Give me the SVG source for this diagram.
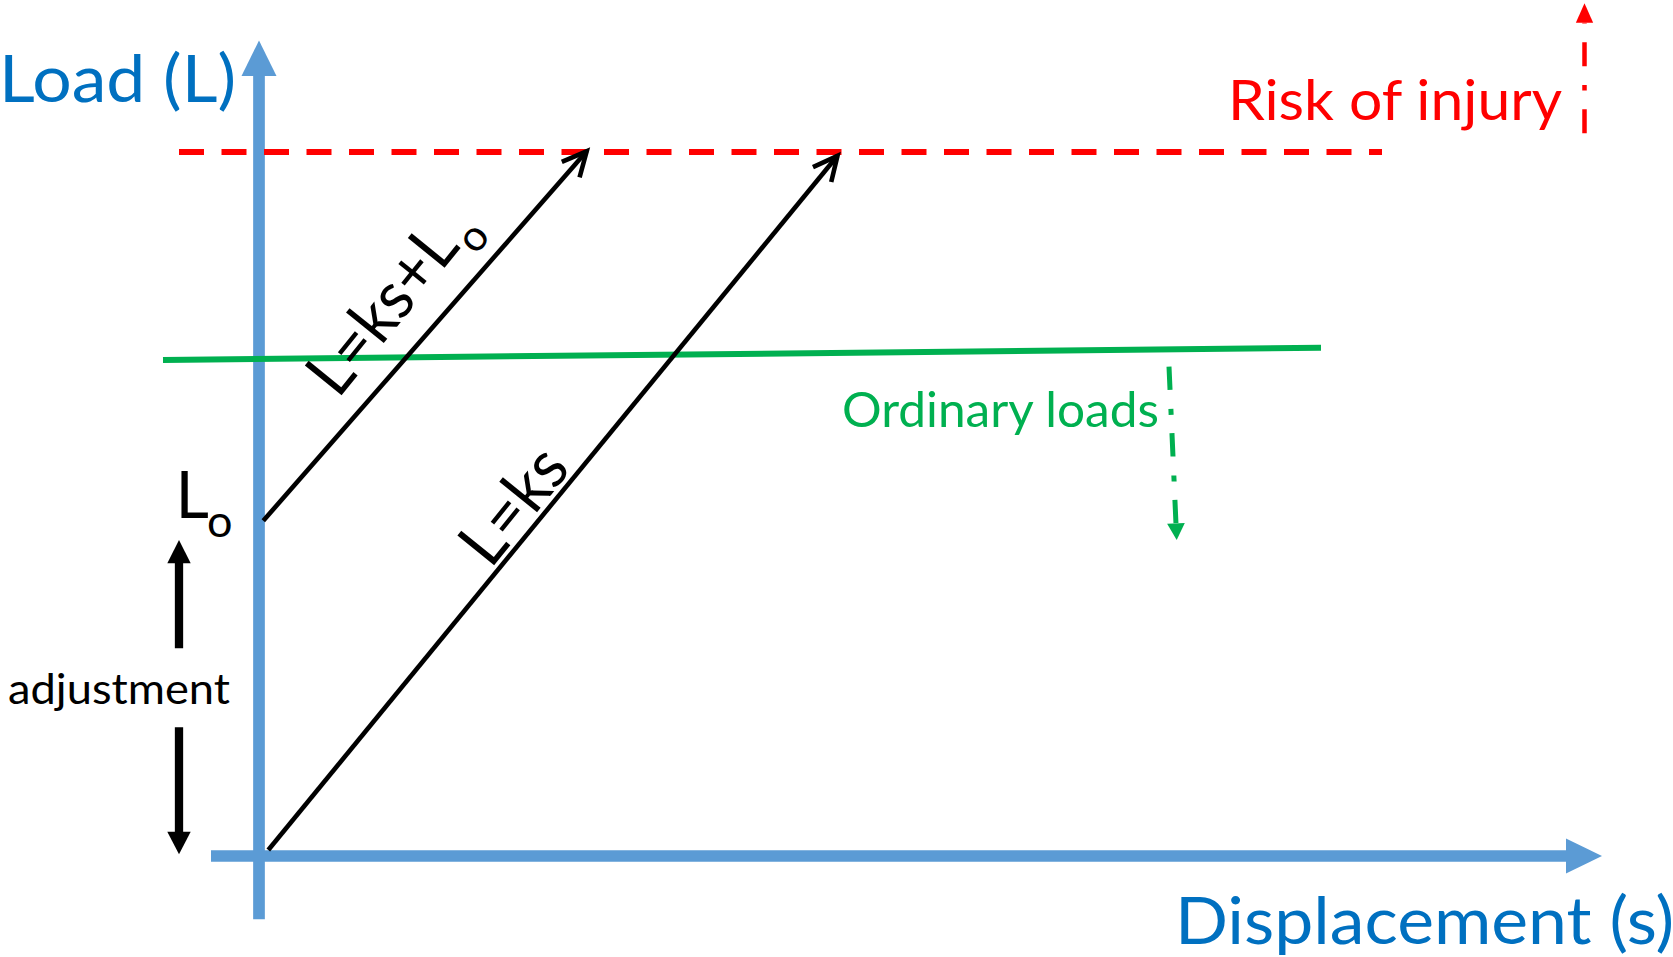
<svg xmlns="http://www.w3.org/2000/svg" width="1673" height="957" viewBox="0 0 1673 957">
<style>
  text { font-family: Lato, "Liberation Sans", sans-serif; }
  .blue-t { fill: #0070C0; }
  .axis { stroke: #5B9BD5; stroke-width: 11.7; fill: none; }
  .axis-head { fill: #5B9BD5; }
  .blk { stroke: #000; stroke-width: 4.6; fill: none; }
  .adj { stroke: #000; stroke-width: 8.3; fill: none; }
  .red-dash { stroke: #FF0000; stroke-width: 6; fill: none; stroke-dasharray: 25 17.5; }
  .red-dd { stroke: #FF0000; stroke-width: 4.5; fill: none; stroke-dasharray: 24 18.7 5.7 18.7; }
  .grn { stroke: #00B050; stroke-width: 6; fill: none; }
  .grn-dd { stroke: #00B050; stroke-width: 5; fill: none; stroke-dasharray: 23.3 19 6 18.3; }
</style>
<defs>
  <marker id="openArrow" markerUnits="userSpaceOnUse" markerWidth="44" markerHeight="44" viewBox="-32 -22 44 44" refX="0" refY="0" orient="auto" overflow="visible">
    <path d="M-24.3,-11.8 L0,0 L-24.3,11.8" fill="none" stroke="#000" stroke-width="4.6" stroke-linejoin="miter"/>
  </marker>
  <marker id="redHead" markerUnits="userSpaceOnUse" markerWidth="30" markerHeight="30" viewBox="-5 -15 30 30" refX="0" refY="0" orient="auto" overflow="visible">
    <path d="M0,-8.65 L19.4,0 L0,8.65 Z" fill="#FF0000"/>
  </marker>
  <marker id="greenHead" markerUnits="userSpaceOnUse" markerWidth="30" markerHeight="30" viewBox="-5 -15 30 30" refX="0" refY="0" orient="auto" overflow="visible">
    <path d="M0,-8.85 L16.7,0 L0,8.85 Z" fill="#00B050"/>
  </marker>
</defs>
<rect width="1673" height="957" fill="#fff"/>

<g id="axes">
  <line class="axis" x1="259" y1="919.3" x2="259" y2="75"/>
  <polygon class="axis-head" points="241.5,76 259,40.5 276.5,76"/>
  <line class="axis" x1="211" y1="856" x2="1567" y2="856"/>
  <polygon class="axis-head" points="1566,838.5 1602,856 1566,873.5"/>
</g>

<g id="connectors">
  <line class="red-dash" x1="179" y1="152" x2="1382" y2="152"/>
  <line class="red-dd" x1="1584.5" y1="133.3" x2="1584.5" y2="22.7" marker-end="url(#redHead)"/>
  <line class="grn" x1="163" y1="360" x2="1321" y2="347.8"/>
  <line class="grn-dd" x1="1169" y1="366.7" x2="1175.96" y2="523.3" marker-end="url(#greenHead)"/>
  <line class="blk" x1="263.3" y1="520.7" x2="586.7" y2="151.3" marker-end="url(#openArrow)"/>
  <line class="blk" x1="268.3" y1="850" x2="837.5" y2="155.8" marker-end="url(#openArrow)"/>
  <line class="adj" x1="179" y1="648.3" x2="179" y2="562"/>
  <polygon points="167.3,563.3 179,540 190.7,563.3" fill="#000"/>
  <line class="adj" x1="179" y1="727.3" x2="179" y2="833"/>
  <polygon points="167.3,831.7 179,854.3 190.7,831.7" fill="#000"/>
</g>

<g id="label-load">
  <text class="blue-t" x="-1" y="102" font-size="65" textLength="237" lengthAdjust="spacingAndGlyphs">Load (L)</text>
</g>
<g id="label-displacement">
  <text class="blue-t" x="1175" y="944" font-size="65" textLength="499" lengthAdjust="spacingAndGlyphs">Displacement (s)</text>
</g>
<g id="label-risk">
  <text x="1228" y="120" font-size="56.7" fill="#FF0000" textLength="334" lengthAdjust="spacingAndGlyphs">Risk of injury</text>
</g>
<g id="label-ordinary">
  <text x="842" y="427" font-size="47.7" fill="#00B050" textLength="317" lengthAdjust="spacingAndGlyphs">Ordinary loads</text>
</g>
<g id="label-adjustment">
  <text x="8" y="703.5" font-size="42.3" fill="#000" textLength="222" lengthAdjust="spacingAndGlyphs">adjustment</text>
</g>
<g id="label-Lo">
  <text x="175.5" y="518.3" font-size="65" fill="#000">L<tspan x="207" y="537" font-size="45">o</tspan></text>
</g>
<g id="label-ks-Lo" transform="translate(341.7,395) rotate(-51)">
  <text x="-6" y="0" font-size="66" fill="#000"><tspan textLength="196" lengthAdjust="spacingAndGlyphs">L=ks+L</tspan><tspan x="193" y="17" font-size="43">o</tspan></text>
</g>
<g id="label-ks" transform="translate(494.3,565) rotate(-51)">
  <text x="-6" y="0" font-size="66" fill="#000" textLength="129" lengthAdjust="spacingAndGlyphs">L=ks</text>
</g>
</svg>
